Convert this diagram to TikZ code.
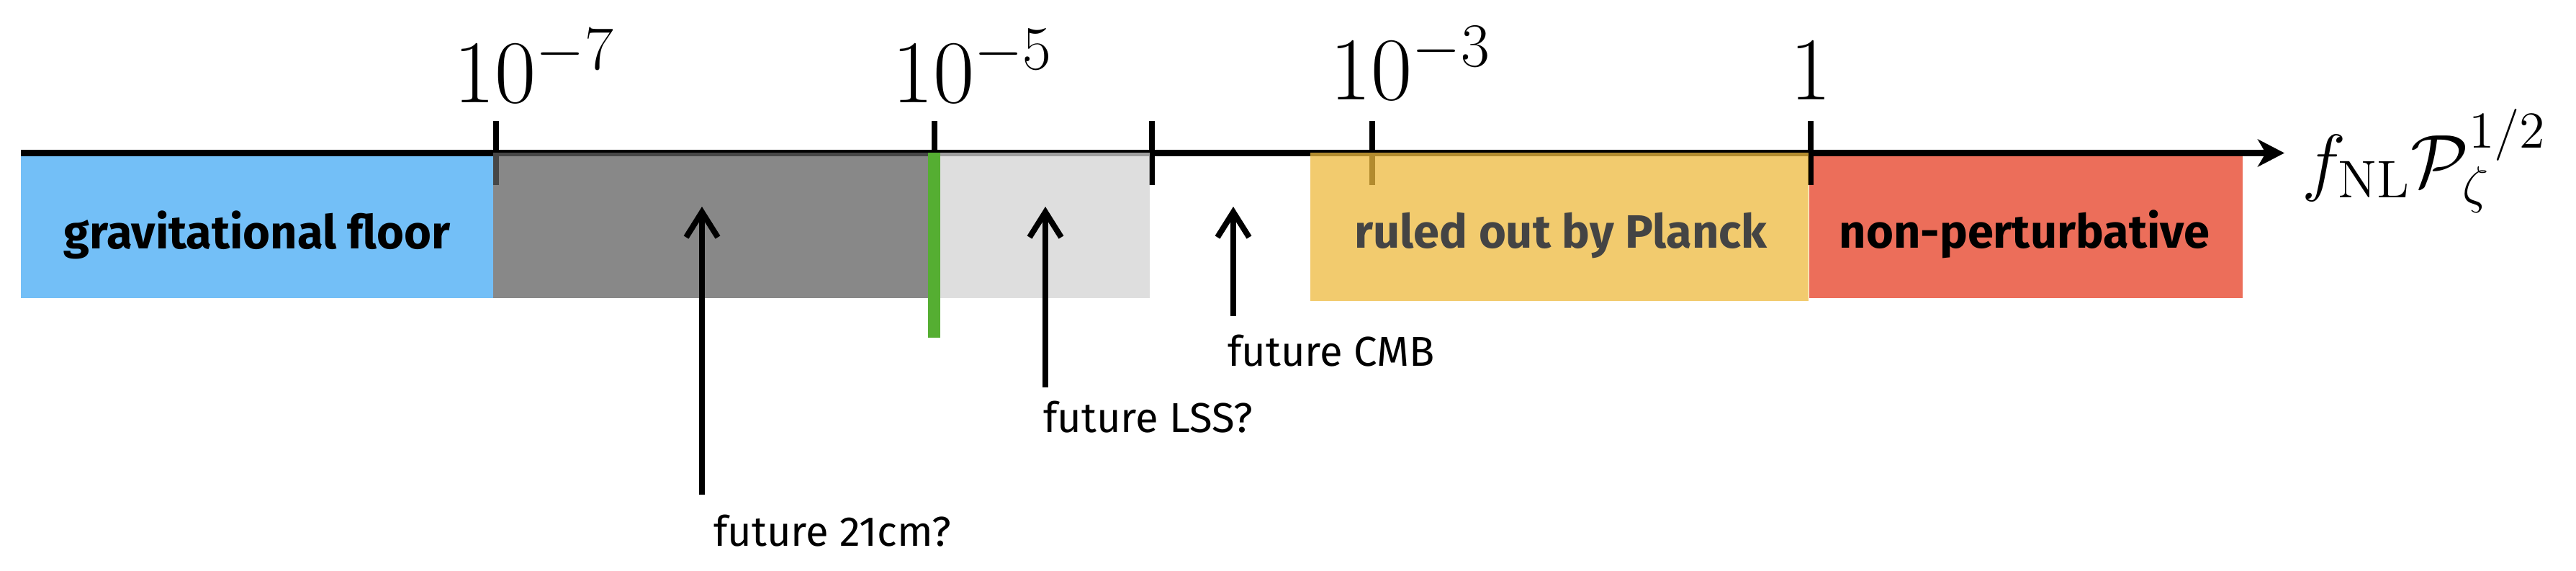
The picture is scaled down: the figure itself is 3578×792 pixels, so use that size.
\documentclass[tikz,border=0pt]{standalone}
\usepackage{fontspec}
\newfontfamily\fira{Fira Sans}
\usetikzlibrary{arrows.meta}
\definecolor{cblue}{RGB}{115,191,247}
\definecolor{cred}{RGB}{236,110,90}
\definecolor{cgray}{RGB}{96,96,96}
\definecolor{clgray}{RGB}{211,211,211}
\definecolor{cyellow}{RGB}{238,186,62}
\definecolor{cgreen}{RGB}{85,174,50}
\definecolor{ctext}{RGB}{68,68,68}
\newcommand{\supr}[1]{^{\rlap{$\scriptstyle #1$}}}
\begin{document}
\begin{tikzpicture}[x=0.2pt,y=-0.2pt,
  band/.style={draw=none},
  overband/.style={draw=none, fill opacity=0.75},
  axisline/.style={line width=1.8pt, -{Stealth[length=7.4pt,width=7.6pt,inset=2.2pt]}},
  tickline/.style={line width=1.6pt},
  ticklbl/.style={anchor=base, inner sep=0pt, font=\fontsize{24}{28}\selectfont},
  boldlbl/.style={anchor=base, inner sep=0pt, font=\fira\bfseries\fontsize{13}{15}\selectfont},
  futlbl/.style={anchor=base west, inner sep=0pt, font=\fira\fontsize{11.6}{14}\selectfont},
  futarrow/.style={line width=1.6pt, -{Straight Barb[length=7pt,width=8.8pt]}}
]
\useasboundingbox (0,0) rectangle (3578,792);
% bands under the axis
\fill[band, cblue] (29,212) rectangle (685,414);
\fill[band, cred] (2513,212) rectangle (3115,414);
% axis
\coordinate (ax0) at (29,212.5);
\coordinate (ax1) at (3173,212.5);
\draw[axisline] (ax0) -- (ax1);
% ticks
\foreach \x in {689,1297.5,1600,1906,2515} {
  \draw[tickline] (\x,168) -- (\x,257);
}
% tick labels
\node[ticklbl] (l7) at (689,142) {$10\supr{-7}$};
\node[ticklbl] (l5) at (1297.5,142) {$10\supr{-5}$};
\node[ticklbl] (l3) at (1906,138) {$10\supr{-3}$};
\node[ticklbl] (l0) at (2515,138) {$1$};
\node[anchor=base west, inner sep=0pt, font=\fontsize{21}{25}\selectfont] (axl) at (3196,259) {$f_{\rm NL}\mathcal{P}_\zeta^{1/2}$};
% bands over the axis
\fill[overband, cgray] (685,212) rectangle (1297,414);
\fill[overband, clgray] (1297,212) rectangle (1597,414);
\fill[overband, cyellow] (1820,212) rectangle (2512,418);
\fill[band, cgreen] (1289,212) rectangle (1306,469);
% band labels
\node[boldlbl] (grav) at (357,345) {gravitational floor};
\node[boldlbl, text=ctext] (planck) at (2168,344) {ruled out by Planck};
\node[boldlbl] (nonpert) at (2812,344) {non-perturbative};
% future labels
\node[futlbl] (t21) at (990,758) {future 21cm?};
\node[futlbl] (tlss) at (1448,600) {future LSS?};
\node[futlbl] (tcmb) at (1704,508) {future CMB};
% arrows
\coordinate (s21) at (975,687);
\coordinate (e21) at (975,287);
\coordinate (slss) at (1452,538);
\coordinate (elss) at (1452,287);
\coordinate (scmb) at (1713,439);
\coordinate (ecmb) at (1713,287);
\draw[futarrow] (s21) -- (e21);
\draw[futarrow] (slss) -- (elss);
\draw[futarrow] (scmb) -- (ecmb);
\end{tikzpicture}
\end{document}
